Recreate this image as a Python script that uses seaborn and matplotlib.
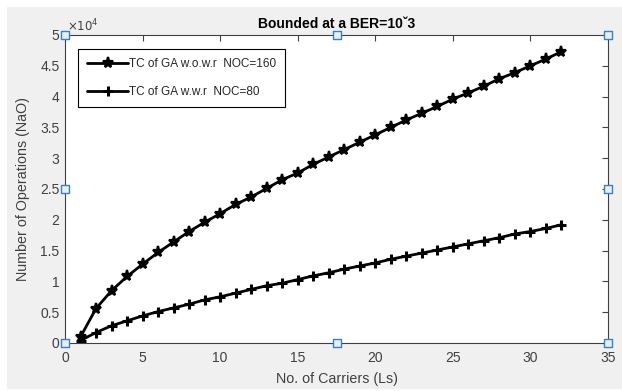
import matplotlib
matplotlib.use("Agg")
import matplotlib.pyplot as plt
import seaborn as sns
import pandas as pd
from matplotlib.ticker import FuncFormatter, MultipleLocator
from matplotlib.patches import Rectangle

carriers = list(range(1, 33))
noc160 = [1000, 5600, 8500, 10800, 12800, 14700, 16400, 18100, 19600, 21000,
          22500, 23700, 25100, 26500, 27600, 29000, 30200, 31400, 32600, 33800,
          35000, 36200, 37300, 38400, 39600, 40600, 41700, 42900, 43900, 45000,
          46100, 47300]
noc80 = [400, 1700, 2800, 3600, 4400, 5100, 5700, 6300, 7000, 7500,
         8100, 8700, 9300, 9700, 10300, 10900, 11400, 12000, 12500, 13000,
         13600, 14100, 14600, 15100, 15600, 16100, 16600, 17100, 17700, 18100,
         18600, 19200]
label160 = "TC of GA w.o.w.r  NOC=160"
label80 = "TC of GA w.w.r  NOC=80"
title = "Bounded at a BER=10ˇ3"
xlabel = "No. of Carriers (Ls)"
ylabel = "Number of Operations (NaO)"

sns.set_style("white")
plt.rcParams['font.family'] = ['Liberation Sans', 'DejaVu Sans']

fig = plt.figure(figsize=(6.22, 3.91), dpi=100, facecolor="white")
fig.patches.append(Rectangle((7/622, 1-389/391), 615/622, 382/391,
                             transform=fig.transFigure, facecolor="#f0f0f0",
                             edgecolor="none", zorder=-10))
ax = fig.add_axes([65/622, 1-343/391, 543/622, 308/391])
ax.set_facecolor("white")

df = pd.DataFrame({"x": carriers, "a": noc160, "b": noc80})
sns.lineplot(data=df, x="x", y="a", ax=ax, color="black", lw=2, marker="*",
             markersize=8, markeredgecolor="black", markeredgewidth=1.6,
             label=label160)
sns.lineplot(data=df, x="x", y="b", ax=ax, color="black", lw=2, marker="+",
             markersize=6.5, markeredgecolor="black", markeredgewidth=2.2,
             label=label80)

ax.set_xlim(0, 35)
ax.set_ylim(0, 50000)
ax.xaxis.set_major_locator(MultipleLocator(5))
ax.yaxis.set_major_locator(MultipleLocator(5000))
ax.yaxis.set_major_formatter(FuncFormatter(lambda v, p: f"{v/1e4:g}"))
ax.tick_params(direction="in", length=4, width=0.8, colors="#404040",
               labelsize=10, top=True, right=True, labelcolor="#404040")
ax.tick_params(axis="x", pad=6)
ax.tick_params(axis="y", pad=4)
for s in ax.spines.values():
    s.set_color("#404040")
    s.set_linewidth(0.8)

ax.set_xlabel(xlabel, fontsize=10.3, color="#404040", labelpad=5)
ax.set_ylabel(ylabel, fontsize=10.3, color="#404040", labelpad=7)
ax.set_title(title, fontsize=10, fontweight="bold", color="black", pad=5)
ax.text(0.004, 1.003, r"$\times10^4$", transform=ax.transAxes, fontsize=8.5,
        color="#404040", ha="left", va="bottom")

leg = ax.legend(loc="upper left", bbox_to_anchor=(0.024, 0.9545),
                borderaxespad=0, fontsize=8.5, frameon=True, fancybox=False,
                edgecolor="black", handlelength=3.5, handletextpad=0.1,
                labelspacing=1.35, borderpad=0.75, framealpha=1)
leg.get_frame().set_linewidth(0.8)

hx = [0, 0.5, 1, 0, 1, 0, 0.5, 1]
hy = [0, 0, 0, 0.5, 0.5, 1, 1, 1]
ax.scatter(hx, hy, transform=ax.transAxes, marker="s", s=28,
           facecolor="#e6f0fa", edgecolor="#3c7fc0", linewidth=1,
           clip_on=False, zorder=10)

fig.savefig("out.png", dpi=100, facecolor=fig.get_facecolor())
